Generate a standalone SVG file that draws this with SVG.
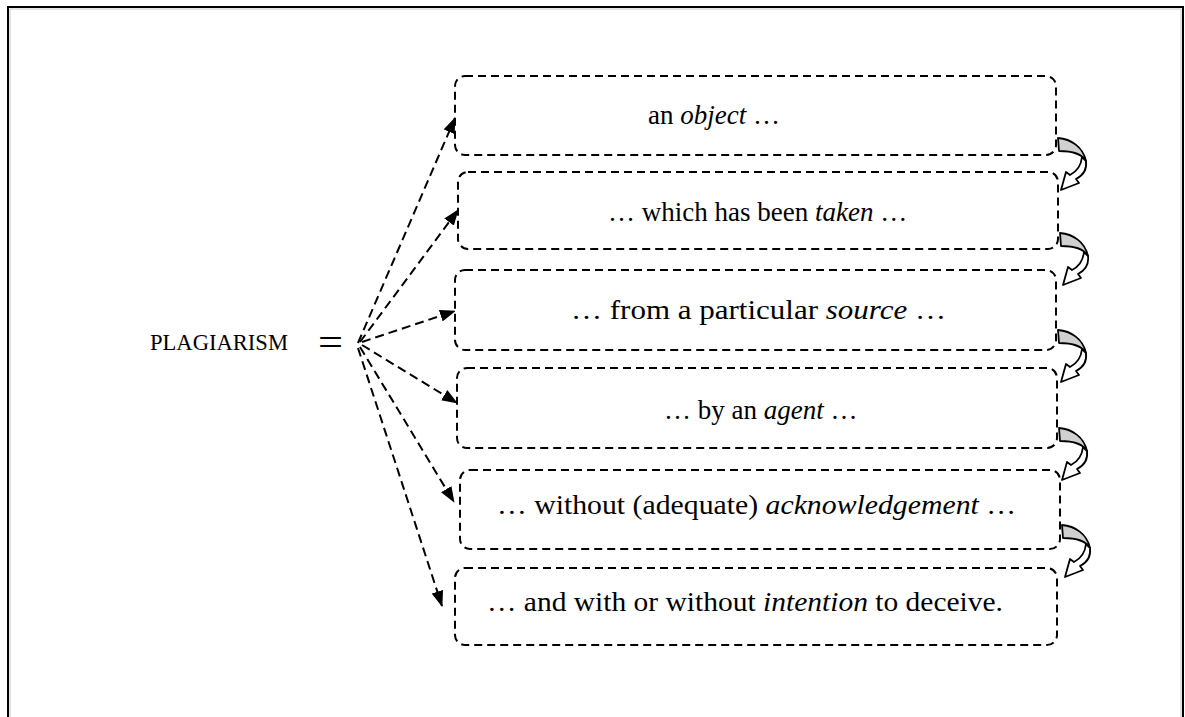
<svg xmlns="http://www.w3.org/2000/svg" width="1185" height="717" viewBox="0 0 1185 717">
  <defs>
    <style>
      .frame { fill: none; stroke: #000; stroke-width: 2; }
      .frame-shade { fill: none; stroke: #c8c8c8; stroke-width: 1; }
      .box { fill: #fff; stroke: #000; stroke-width: 2; stroke-dasharray: 8 5; }
      .txt { font-family: "Liberation Serif", "Times New Roman", serif; font-size: 27px; fill: #000; }
      .lbl { font-family: "Liberation Serif", "Times New Roman", serif; font-size: 23px; fill: #000; }
      .eq { font-family: "Liberation Serif", "Times New Roman", serif; font-size: 40px; fill: #000; }
      .it { font-style: italic; }
      .link { fill: none; stroke: #000; stroke-width: 2; stroke-dasharray: 9 5; marker-end: url(#head); }
      .curl-back { fill: #d0d0d0; stroke: #000; stroke-width: 1.8; stroke-linejoin: round; }
      .curl-front { fill: #fff; stroke: #000; stroke-width: 1.8; stroke-linejoin: round; }
    </style>
    <marker id="head" viewBox="0 0 16 12" refX="15" refY="6" markerWidth="8" markerHeight="6" markerUnits="strokeWidth" orient="auto">
      <path d="M0,0 L16,6 L0,12 Z" fill="#000"/>
    </marker>
    <!-- curled block arrow linking one box to the next -->
    <g id="curl">
      <path class="curl-back" d="M1,0 C14,1 26,9 29,23 C25,16 15,13 2,13 Z"/>
      <path class="curl-front" d="M29,23 C30,31 27,37 19,41 L22,45 L4,52 L9,34 L13,37 C19,34 24,28 25,19 Z"/>
    </g>
  </defs>

  <!-- page frame -->
  <path class="frame-shade" d="M10,720 V9 H1181 V720"/>
  <path class="frame" d="M8,720 V7 H1183 V720"/>

  <!-- left label -->
  <g id="plagiarism">
    <text class="lbl" x="150" y="350" textLength="138" lengthAdjust="spacingAndGlyphs">PLAGIARISM</text>
    <text class="eq" x="318" y="356" textLength="25" lengthAdjust="spacingAndGlyphs">=</text>
  </g>

  <!-- connectors -->
  <g id="connectors">
    <path class="link" d="M358,343 L455,118"/>
    <path class="link" d="M360,342 L458,210"/>
    <path class="link" d="M362,342 L455,311"/>
    <path class="link" d="M362,345 L457,403"/>
    <path class="link" d="M360,347 L454,502"/>
    <path class="link" d="M358,348 L442,606"/>
    <use href="#curl" x="1057" y="138"/>
    <use href="#curl" x="1059" y="233"/>
    <use href="#curl" x="1057" y="330"/>
    <use href="#curl" x="1058" y="428"/>
    <use href="#curl" x="1061" y="525"/>
  </g>

  <!-- statement boxes -->
  <g id="box-object">
    <rect class="box" x="455" y="76" width="601" height="79" rx="10"/>
    <text class="txt" x="648" y="124">an <tspan class="it">object</tspan> …</text>
  </g>
  <g id="box-taken">
    <rect class="box" x="458" y="172" width="600" height="77" rx="10"/>
    <text class="txt" x="608" y="221">… which has been <tspan class="it">taken</tspan> …</text>
  </g>
  <g id="box-source">
    <rect class="box" x="455" y="270" width="601" height="80" rx="10"/>
    <text class="txt" x="571" y="319" textLength="375" lengthAdjust="spacingAndGlyphs">… from a particular <tspan class="it">source</tspan> …</text>
  </g>
  <g id="box-agent">
    <rect class="box" x="457" y="368" width="600" height="80" rx="10"/>
    <text class="txt" x="664" y="419">… by an <tspan class="it">agent</tspan> …</text>
  </g>
  <g id="box-acknowledgement">
    <rect class="box" x="460" y="470" width="600" height="79" rx="10"/>
    <text class="txt" x="497" y="514" textLength="519" lengthAdjust="spacingAndGlyphs">… without (adequate) <tspan class="it">acknowledgement</tspan> …</text>
  </g>
  <g id="box-intention">
    <rect class="box" x="455" y="568" width="602" height="77" rx="10"/>
    <text class="txt" x="487" y="611" textLength="516" lengthAdjust="spacingAndGlyphs">… and with or without <tspan class="it">intention</tspan> to deceive.</text>
  </g>
</svg>
